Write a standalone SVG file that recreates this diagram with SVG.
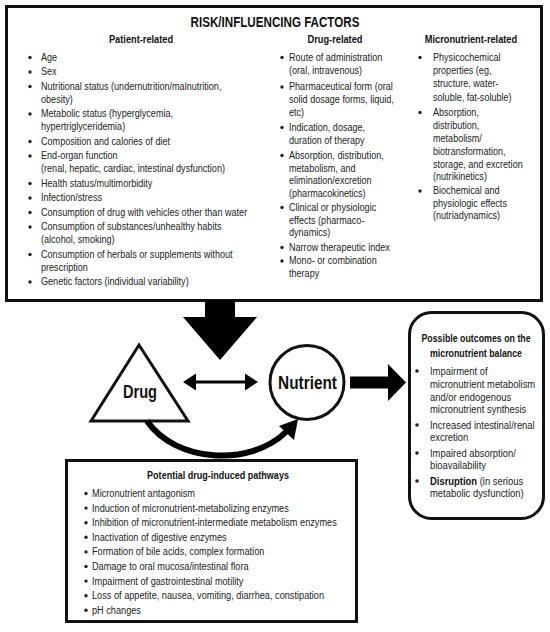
<svg xmlns="http://www.w3.org/2000/svg" width="550" height="632" viewBox="0 0 550 632">
<style>
.box{fill:#fff;stroke:#111;stroke-width:3}
.t{font-family:"Liberation Sans",Arial,sans-serif;font-size:10.8px;fill:#222}
.tr{font-family:"Liberation Sans",Arial,sans-serif;font-size:11.5px;fill:#222}
.h{font-family:"Liberation Sans",Arial,sans-serif;font-size:10.5px;font-weight:bold;fill:#111}
.title{font-family:"Liberation Sans",Arial,sans-serif;font-size:14px;font-weight:bold;fill:#111}
.big{font-family:"Liberation Sans",Arial,sans-serif;font-size:18px;font-weight:bold;fill:#111}
.b{fill:#222}
.c{text-anchor:middle}
</style>
<rect width="550" height="632" fill="#fff"/>

<g id="risk-factors">
<rect class="box" x="6.5" y="6.5" width="535" height="294"/>
<g transform="translate(275,0) scale(0.83,1)"><text class="title c" x="0" y="27">RISK/INFLUENCING FACTORS</text></g>
<g transform="translate(141,0) scale(0.88,1)"><text class="h c" x="0" y="43">Patient-related</text></g>
<g transform="translate(335,0) scale(0.88,1)"><text class="h c" x="0" y="43">Drug-related</text></g>
<g transform="translate(471,0) scale(0.88,1)"><text class="h c" x="0" y="43">Micronutrient-related</text></g>
<g class="b">
<circle cx="30" cy="57.5" r="1.7"/><circle cx="30" cy="72" r="1.7"/><circle cx="30" cy="86.5" r="1.7"/><circle cx="30" cy="114" r="1.7"/><circle cx="30" cy="141.5" r="1.7"/><circle cx="30" cy="156" r="1.7"/><circle cx="30" cy="183.5" r="1.7"/><circle cx="30" cy="198" r="1.7"/><circle cx="30" cy="212.5" r="1.7"/><circle cx="30" cy="227" r="1.7"/><circle cx="30" cy="254.5" r="1.7"/><circle cx="30" cy="282" r="1.7"/>
<circle cx="282" cy="57.5" r="1.7"/><circle cx="282" cy="87" r="1.7"/><circle cx="282" cy="127.5" r="1.7"/><circle cx="282" cy="155.5" r="1.7"/><circle cx="282" cy="207.5" r="1.7"/><circle cx="282" cy="247.5" r="1.7"/><circle cx="282" cy="261" r="1.7"/>
<circle cx="420" cy="57.5" r="1.7"/><circle cx="420" cy="112.5" r="1.7"/><circle cx="420" cy="191" r="1.7"/>
</g>
<g transform="translate(41,0) scale(0.84,1)">
<text class="t" x="0" y="61">Age</text>
<text class="t" x="0" y="75.5">Sex</text>
<text class="t" x="0" y="90">Nutritional status (undernutrition/malnutrition,</text>
<text class="t" x="0" y="103">obesity)</text>
<text class="t" x="0" y="117.5">Metabolic status (hyperglycemia,</text>
<text class="t" x="0" y="130.5">hypertriglyceridemia)</text>
<text class="t" x="0" y="145">Composition and calories of diet</text>
<text class="t" x="0" y="159.5">End-organ function</text>
<text class="t" x="0" y="172.5">(renal, hepatic, cardiac, intestinal dysfunction)</text>
<text class="t" x="0" y="187">Health status/multimorbidity</text>
<text class="t" x="0" y="201.5">Infection/stress</text>
<text class="t" x="0" y="216">Consumption of drug with vehicles other than water</text>
<text class="t" x="0" y="230.5">Consumption of substances/unhealthy habits</text>
<text class="t" x="0" y="243.5">(alcohol, smoking)</text>
<text class="t" x="0" y="258">Consumption of herbals or supplements without</text>
<text class="t" x="0" y="271">prescription</text>
<text class="t" x="0" y="285.5">Genetic factors (individual variability)</text>
</g>
<g transform="translate(289,0) scale(0.84,1)">
<text class="t" x="0" y="61">Route of administration</text>
<text class="t" x="0" y="74">(oral, intravenous)</text>
<text class="t" x="0" y="90.5">Pharmaceutical form (oral</text>
<text class="t" x="0" y="103.5">solid dosage forms, liquid,</text>
<text class="t" x="0" y="116.5">etc)</text>
<text class="t" x="0" y="131">Indication, dosage,</text>
<text class="t" x="0" y="144">duration of therapy</text>
<text class="t" x="0" y="159">Absorption, distribution,</text>
<text class="t" x="0" y="172">metabolism, and</text>
<text class="t" x="0" y="184.5">elimination/excretion</text>
<text class="t" x="0" y="197">(pharmacokinetics)</text>
<text class="t" x="0" y="211">Clinical or physiologic</text>
<text class="t" x="0" y="224">effects (pharmaco-</text>
<text class="t" x="0" y="236.5">dynamics)</text>
<text class="t" x="0" y="251">Narrow therapeutic index</text>
<text class="t" x="0" y="264.5">Mono- or combination</text>
<text class="t" x="0" y="277.5">therapy</text>
</g>
<g transform="translate(433,0) scale(0.84,1)">
<text class="t" x="0" y="61">Physicochemical</text>
<text class="t" x="0" y="74">properties (eg,</text>
<text class="t" x="0" y="87.5">structure, water-</text>
<text class="t" x="0" y="101">soluble, fat-soluble)</text>
<text class="t" x="0" y="116">Absorption,</text>
<text class="t" x="0" y="129">distribution,</text>
<text class="t" x="0" y="142.5">metabolism/</text>
<text class="t" x="0" y="155.5">biotransformation,</text>
<text class="t" x="0" y="168">storage, and excretion</text>
<text class="t" x="0" y="180.5">(nutrikinetics)</text>
<text class="t" x="0" y="194.5">Biochemical and</text>
<text class="t" x="0" y="207">physiologic effects</text>
<text class="t" x="0" y="219.5">(nutriadynamics)</text>
</g>
</g>

<g id="drug">
<polygon points="139,345 91,421 188,421" fill="#fff" stroke="#111" stroke-width="3" stroke-linejoin="miter"/>
<g transform="translate(140,0) scale(0.81,1)"><text class="big c" x="0" y="398">Drug</text></g>
</g>

<g id="nutrient">
<circle cx="307" cy="382.5" r="37" fill="#fff" stroke="#111" stroke-width="3"/>
<g transform="translate(307.5,0) scale(0.855,1)"><text class="big c" x="0" y="389">Nutrient</text></g>
</g>

<g id="outcomes">
<rect class="box" x="409.5" y="312.5" width="134" height="206" rx="22" ry="22"/>
<g transform="translate(476,0) scale(0.84,1)">
<text class="h c" x="0" y="342">Possible outcomes on the</text>
<text class="h c" x="0" y="357">micronutrient balance</text>
</g>
<g class="b">
<circle cx="417" cy="371" r="1.8"/><circle cx="417" cy="425" r="1.8"/><circle cx="417" cy="453" r="1.8"/><circle cx="417" cy="481" r="1.8"/>
</g>
<g transform="translate(430,0) scale(0.82,1)">
<text class="tr" x="0" y="375">Impairment of</text>
<text class="tr" x="0" y="388">micronutrient metabolism</text>
<text class="tr" x="0" y="401">and/or endogenous</text>
<text class="tr" x="0" y="413.5">micronutrient synthesis</text>
<text class="tr" x="0" y="429">Increased intestinal/renal</text>
<text class="tr" x="0" y="441.5">excretion</text>
<text class="tr" x="0" y="457">Impaired absorption/</text>
<text class="tr" x="0" y="469.5">bioavailability</text>
<text class="tr" x="0" y="485"><tspan font-weight="bold" fill="#111">Disruption</tspan> (in serious</text>
<text class="tr" x="0" y="497.5">metabolic dysfunction)</text>
</g>
</g>

<g id="pathways">
<rect class="box" x="66.5" y="460.5" width="290" height="161"/>
<g transform="translate(218,0) scale(0.86,1)"><text class="h c" x="0" y="479">Potential drug-induced pathways</text></g>
<g class="b">
<circle cx="86" cy="493.5" r="1.7"/><circle cx="86" cy="508.1" r="1.7"/><circle cx="86" cy="522.7" r="1.7"/><circle cx="86" cy="537.3" r="1.7"/><circle cx="86" cy="551.9" r="1.7"/><circle cx="86" cy="566.5" r="1.7"/><circle cx="86" cy="581.1" r="1.7"/><circle cx="86" cy="595.7" r="1.7"/><circle cx="86" cy="610.3" r="1.7"/>
</g>
<g transform="translate(92,0) scale(0.85,1)">
<text class="t" x="0" y="497">Micronutrient antagonism</text>
<text class="t" x="0" y="511.6">Induction of micronutrient-metabolizing enzymes</text>
<text class="t" x="0" y="526.2">Inhibition of micronutrient-intermediate metabolism enzymes</text>
<text class="t" x="0" y="540.8">Inactivation of digestive enzymes</text>
<text class="t" x="0" y="555.4">Formation of bile acids, complex formation</text>
<text class="t" x="0" y="570">Damage to oral mucosa/intestinal flora</text>
<text class="t" x="0" y="584.6">Impairment of gastrointestinal motility</text>
<text class="t" x="0" y="599.2">Loss of appetite, nausea, vomiting, diarrhea, constipation</text>
<text class="t" x="0" y="613.8">pH changes</text>
</g>
</g>

<g id="connectors" fill="#000">
<polygon points="205,300 235,300 235,317 257,317 220,360 183,317 205,317"/>
<line x1="193" y1="382" x2="248" y2="382" stroke="#000" stroke-width="3.2"/>
<polygon points="183,382 196,373.5 196,390.5"/>
<polygon points="258,382 245,373.5 245,390.5"/>
<polygon points="350,376.5 388,376.5 388,364 406,382.5 388,401 388,388.5 350,388.5"/>
<path d="M147,421 C175,462 250,468 287,431" fill="none" stroke="#000" stroke-width="6"/>
<polygon points="298,419 279,426 294,440"/>
</g>
</svg>
